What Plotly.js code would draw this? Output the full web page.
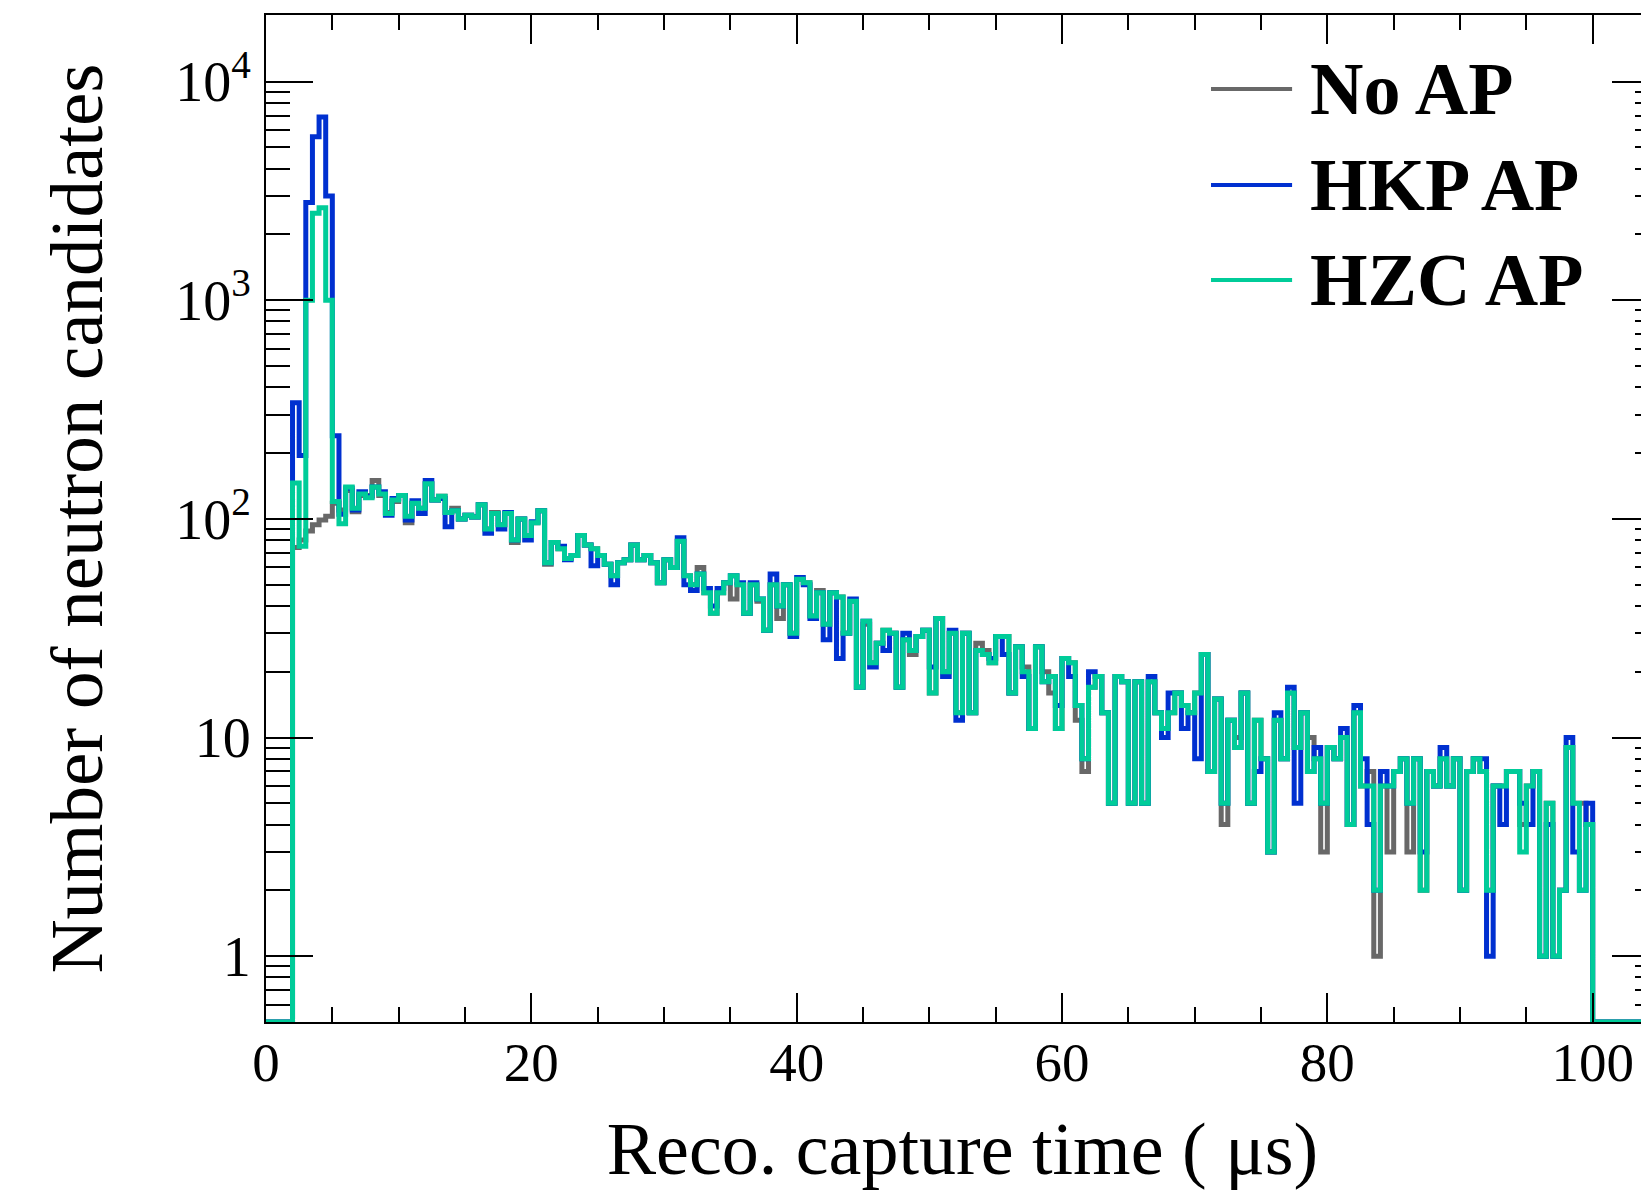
<!DOCTYPE html>
<html>
<head>
<meta charset="utf-8">
<script src="https://cdn.plot.ly/plotly-3.0.1.min.js"></script>
<style>
html,body{margin:0;padding:0;overflow:hidden;background:#fff;}
#chart{width:1680px;height:1190px;}
</style>
</head>
<body>
<div id="chart"></div>
<script>
// ---- data ----
const seriesNames = ['No AP', 'HKP AP', 'HZC AP'];
const seriesColors = ['#686868', '#0030d0', '#00cc99'];
const binStart = 2.0;   // first filled bin low edge (µs)
const binWidth = 0.5;   // µs

const noAP = [74,80,88,94,99,103,118,110,135,108,128,128,150,128,107,120,
128,96,118,112,145,122,127,107,112,100,104,102,116,90,107,94,106,78,100,84,96,109,62,78,
73,66,68,84,76,73,68,62,55,63,65,76,65,68,63,51,65,60,79,55,50,60,46,37,46,51,43,50,37,50,
42,31,50,35,50,30,53,51,36,47,33,46,44,30,42,17,33,22,27,31,30,17,28,24,29,31,16,35,20,30,
13,30,13,27,25,22,29,29,16,26,21,11,26,20,16,11,23,22,12,7,17,19,13,5,19,18,5,18,5,18,
13,11,13,16,14,13,16,24,7,15,4,12,10,16,5,12,8,3,12,8,16,9,13,10,8,3,9,8,10,4,13,6,7,1,
6,3,7,8,3,8,2,7,6,8,6,8,2,7,8,7,2,6,6,7,7,4,6,7,1,5,1,2,9,5,5,4];

const hkpAP = [340,195,2800,5600,6900,3000,240,105,138,110,133,127,140,133,104,124,
128,99,121,106,150,122,124,92,109,100,104,102,116,86,106,90,107,80,100,80,97,109,63,78,
75,65,68,84,76,61,68,62,50,63,65,76,65,68,63,51,65,60,82,50,47,56,48,40,48,51,55,51,37,51,
43,31,56,40,50,29,54,50,35,46,28,46,23,30,43,17,34,21,27,25,30,17,30,25,29,31,21,35,19,31,
12,30,13,25,24,23,29,24,16,26,19,11,26,18,19,14,23,19,14,8,20,19,13,5,19,18,5,18,5,19,
13,10,16,16,11,13,8,24,7,15,5,12,9,16,5,7,8,3,13,8,17,5,13,7,9,5,9,8,11,4,14,8,4,2,
7,6,7,8,5,8,3,7,6,9,6,8,2,7,8,8,1,6,4,7,7,5,4,7,1,4,1,2,10,3,2,5];

const hzcAP = [146,75,1000,2500,2650,1000,120,95,140,112,130,125,140,130,106,122,
128,103,118,112,145,122,127,107,109,100,104,102,116,90,106,94,106,80,100,84,96,109,63,78,
73,66,68,84,76,73,68,62,55,63,65,76,65,68,63,51,65,60,79,55,50,56,46,37,46,51,55,50,37,50,
43,31,50,40,50,30,53,51,36,46,33,46,44,30,42,17,34,22,27,31,30,17,28,25,29,31,16,35,20,30,
13,30,13,25,24,22,29,29,16,26,20,11,26,18,19,11,23,22,14,8,17,19,13,5,19,18,5,18,5,18,
13,11,13,16,14,13,16,24,7,15,5,12,9,16,5,12,8,3,12,8,16,9,13,7,8,5,9,8,10,4,13,6,6,2,
6,6,7,8,5,8,2,7,6,8,6,8,2,7,8,7,2,6,6,7,7,3,6,7,1,5,1,2,9,5,2,4];

const xTickVals = [0, 20, 40, 60, 80, 100];
const yTickVals = [1, 10, 100, 1000, 10000];
const yTickText = ['1', '10', '10<sup>2</sup>', '10<sup>3</sup>', '10<sup>4</sup>'];
const xTitle = 'Reco. capture time ( \u03bcs)';
const yTitle = 'Number of neutron candidates';

// ---- build ----
const yFloor = 0.5, xMax = 105;
function stepTrace(vals, name, color) {
  const x = [0], y = [yFloor];
  vals.forEach((v, i) => { x.push(binStart + binWidth * i); y.push(v); });
  x.push(binStart + binWidth * vals.length); y.push(yFloor);
  x.push(xMax); y.push(yFloor);
  return {type: 'scatter', mode: 'lines', x: x, y: y, name: name,
          line: {shape: 'hv', color: color, width: 5}, showlegend: false};
}
const allSeries = [noAP, hkpAP, hzcAP];
const traces = allSeries.map((s, k) => stepTrace(s, seriesNames[k], seriesColors[k]));

// minor tick positions on the log axis
const yMinor = [];
for (let e = -1; e <= 4; e++) {
  for (let m = 2; m <= 9; m++) {
    const v = m * Math.pow(10, e);
    if (v >= 0.5 && v <= 20000) yMinor.push(v);
  }
}

const font = '"Liberation Serif", "Times New Roman", Times, serif';

// legend drawn as lines + bold labels (long ROOT-style legend lines)
const legRows = [0.9265, 0.8312, 0.7368];
const shapes = seriesNames.map((n, k) => ({
  type: 'line', xref: 'paper', yref: 'paper', x0: 0.6784, x1: 0.7366,
  y0: legRows[k], y1: legRows[k], line: {color: seriesColors[k], width: 4}
}));
const annotations = seriesNames.map((n, k) => ({
  xref: 'paper', yref: 'paper', x: 0.748, y: legRows[k],
  xanchor: 'left', yanchor: 'middle', showarrow: false,
  text: '<b>' + n + '</b>', font: {family: font, size: 74, color: '#000'}
}));

const layout = {
  width: 1680, height: 1190,
  margin: {l: 266, r: 21, t: 15, b: 168, pad: 0},
  paper_bgcolor: '#fff', plot_bgcolor: '#fff',
  showlegend: false,
  font: {family: font, color: '#000'},
  xaxis: {
    range: [0, xMax], tickmode: 'array', tickvals: xTickVals,
    ticks: 'inside', ticklen: 29, tickwidth: 2, tickcolor: '#000',
    minor: {ticks: 'inside', ticklen: 15, tickwidth: 2, tickcolor: '#000', dtick: 5, tick0: 0},
    showline: true, linecolor: '#000', linewidth: 2, mirror: 'ticks',
    showgrid: false, zeroline: false,
    tickfont: {family: font, size: 55, color: '#000'},
    ticklabelstandoff: -9,
    title: {text: xTitle, font: {family: font, size: 74, color: '#000'}, standoff: 34},
    automargin: false
  },
  yaxis: {
    type: 'log', range: [Math.log10(0.5), 4.305],
    tickmode: 'array', tickvals: yTickVals, ticktext: yTickText,
    ticks: 'inside', ticklen: 47, tickwidth: 2, tickcolor: '#000',
    minor: {ticks: 'inside', ticklen: 24, tickwidth: 2, tickcolor: '#000', tickmode: 'array', tickvals: yMinor},
    showline: true, linecolor: '#000', linewidth: 2, mirror: 'ticks',
    showgrid: false, zeroline: false,
    tickfont: {family: font, size: 56, color: '#000'},
    ticklabelstandoff: 2,
    title: {text: yTitle, font: {family: font, size: 75, color: '#000'}, standoff: 48},
    automargin: false
  },
  shapes: shapes,
  annotations: annotations
};

Plotly.newPlot('chart', traces, layout, {displayModeBar: false, staticPlot: true});
</script>
</body>
</html>
